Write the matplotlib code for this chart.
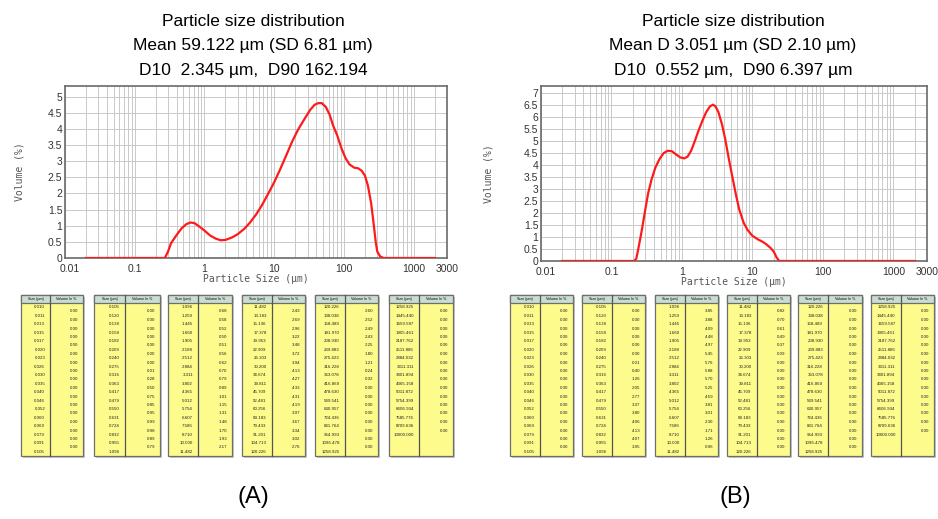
import matplotlib.pyplot as plt
from matplotlib.patches import Rectangle
from matplotlib.ticker import FixedLocator, LogLocator, NullFormatter
from matplotlib.transforms import ScaledTranslation

plt.rcParams['font.family'] = ['Liberation Sans', 'DejaVu Sans']

# size classes (um) used by both result tables
sizes = [0.010, 0.011, 0.013, 0.015, 0.017, 0.020, 0.023, 0.026, 0.030, 0.035,
         0.040, 0.046, 0.052, 0.060, 0.069, 0.079, 0.091, 0.105, 0.120, 0.138,
         0.158, 0.182, 0.209, 0.240, 0.275, 0.316, 0.363, 0.417, 0.479, 0.550,
         0.631, 0.724, 0.832, 0.955, 1.096, 1.259, 1.445, 1.660, 1.905, 2.188,
         2.512, 2.884, 3.311, 3.802, 4.365, 5.012, 5.754, 6.607, 7.586, 8.710,
         10.000, 11.482, 13.183, 15.136, 17.378, 19.953, 22.909, 26.303, 30.200, 34.674,
         39.811, 45.709, 52.481, 60.256, 69.183, 79.433, 91.201, 104.713, 120.226, 138.038,
         158.489, 181.970, 208.930, 239.883, 275.423, 316.228, 363.078, 416.869, 478.630, 549.541,
         630.957, 724.436, 831.764, 954.993, 1096.478, 1258.925, 1445.440, 1659.587, 1905.461, 2187.762,
         2511.886, 2884.032, 3311.311, 3801.894, 4365.158, 5011.872, 5754.399, 6606.934, 7585.776, 8709.636,
         10000.000]

# volume % per size class, sample A
vol_a = [0.00, 0.00, 0.00, 0.00, 0.00, 0.00, 0.00, 0.00, 0.00, 0.00, 0.00, 0.00, 0.00, 0.00, 0.00, 0.00, 0.00,
         0.00, 0.00, 0.00, 0.00, 0.00, 0.00, 0.00, 0.01, 0.28, 0.50, 0.75, 0.85, 0.95, 0.99, 0.98, 0.89, 0.79,
         0.68, 0.58, 0.52, 0.50, 0.51, 0.56, 0.62, 0.70, 0.79, 0.89, 1.01, 1.15, 1.31, 1.48, 1.70, 1.93, 2.17,
         2.43, 2.69, 2.96, 3.22, 3.48, 3.72, 3.94, 4.13, 4.27, 4.33, 4.31, 4.19, 3.97, 3.67, 3.34, 3.02, 2.76,
         2.60, 2.52, 2.49, 2.43, 2.25, 1.80, 1.21, 0.24, 0.02, 0.00, 0.00, 0.00, 0.00, 0.00, 0.00, 0.00, 0.00,
         0.00, 0.00, 0.00, 0.00, 0.00, 0.00, 0.00, 0.00, 0.00, 0.00, 0.00, 0.00, 0.00, 0.00, 0.00]

# volume % per size class, sample B
vol_b = [0.00, 0.00, 0.00, 0.00, 0.00, 0.00, 0.00, 0.00, 0.00, 0.00, 0.00, 0.00, 0.00, 0.00, 0.00, 0.00, 0.00,
         0.00, 0.00, 0.00, 0.00, 0.00, 0.00, 0.01, 0.40, 1.26, 2.05, 2.77, 3.37, 3.80, 4.06, 4.13, 4.07, 3.95,
         3.85, 3.88, 4.09, 4.48, 4.97, 5.45, 5.76, 5.88, 5.70, 5.25, 4.59, 3.81, 3.01, 2.30, 1.71, 1.26, 0.96,
         0.82, 0.70, 0.61, 0.49, 0.37, 0.09, 0.00, 0.00, 0.00, 0.00, 0.00, 0.00, 0.00, 0.00, 0.00, 0.00, 0.00,
         0.00, 0.00, 0.00, 0.00, 0.00, 0.00, 0.00, 0.00, 0.00, 0.00, 0.00, 0.00, 0.00, 0.00, 0.00, 0.00, 0.00,
         0.00, 0.00, 0.00, 0.00, 0.00, 0.00, 0.00, 0.00, 0.00, 0.00, 0.00, 0.00, 0.00, 0.00, 0.00]

# distribution curves (size um, volume %)
curve_a_x = [0.02, 0.27, 0.30, 0.33, 0.40, 0.47, 0.55, 0.63, 0.72, 0.85, 1.0, 1.2, 1.45, 1.7, 2.0,
             2.5, 3.0, 3.7, 4.5, 5.5, 6.6, 8.0, 10, 12, 15, 18, 22, 27, 33, 38, 43, 48, 55, 62,
             70, 80, 92, 105, 120, 140, 160, 180, 200, 220, 245, 265, 285, 300, 330, 370, 2000]
curve_a_y = [0, 0, 0.2, 0.45, 0.72, 0.92, 1.05, 1.10, 1.08, 0.97, 0.85, 0.70, 0.60, 0.55, 0.56,
             0.64, 0.74, 0.90, 1.10, 1.35, 1.62, 1.95, 2.35, 2.72, 3.2, 3.6, 3.98, 4.3, 4.6, 4.75, 4.80, 4.80, 4.68, 4.45,
             4.1, 3.8, 3.4, 3.1, 2.9, 2.8, 2.78, 2.7, 2.55, 2.25, 1.7, 1.1, 0.5, 0.2, 0.05, 0, 0]

curve_b_x = [0.02, 0.21, 0.225, 0.24, 0.27, 0.30, 0.33, 0.37, 0.42, 0.48, 0.55, 0.63, 0.72, 0.82, 0.95,
             1.08, 1.2, 1.35, 1.5, 1.7, 1.95, 2.2, 2.5, 2.75, 3.0, 3.3, 3.7, 4.1, 4.6, 5.2, 5.8,
             6.5, 7.5, 8.5, 10, 12, 14, 16, 18, 20, 22, 24, 2000]
curve_b_y = [0, 0, 0.1, 0.5, 1.3, 2.1, 2.8, 3.4, 3.9, 4.25, 4.5, 4.6, 4.58, 4.45, 4.32,
             4.28, 4.35, 4.6, 4.95, 5.4, 5.85, 6.2, 6.45, 6.52, 6.45, 6.2, 5.7, 5.1, 4.3, 3.5, 2.8,
             2.15, 1.6, 1.3, 1.05, 0.9, 0.8, 0.68, 0.55, 0.4, 0.15, 0, 0]

x_ticks = [0.01, 0.1, 1, 10, 100, 1000, 3000]
x_tick_labels = ['0.01', '0.1', '1', '10', '100', '1000', '3000']

titles_a = ['Particle size distribution', 'Mean 59.122 \u00b5m (SD 6.81 \u00b5m)', 'D10  2.345 \u00b5m,  D90 162.194']
titles_b = ['Particle size distribution', 'Mean D 3.051 \u00b5m (SD 2.10 \u00b5m)', 'D10  0.552 \u00b5m,  D90 6.397 \u00b5m']

W, H = 938, 519
fig = plt.figure(figsize=(W / 100, H / 100), dpi=100)


def px_axes(left, top, right, bottom):
    return fig.add_axes([left / W, 1 - bottom / H, (right - left) / W, (bottom - top) / H])


def psd_plot(ax, cx, cy, ymax, yticks):
    ax.plot(cx, cy, color='#ff1a1a', lw=1.6, zorder=3)
    ax.set_xscale('log')
    ax.set_xlim(0.01, 3000)
    ax.set_ylim(0, ymax)
    ax.xaxis.set_major_locator(FixedLocator(x_ticks))
    ax.set_xticklabels(x_tick_labels)
    ax.xaxis.set_minor_locator(LogLocator(base=10, subs=range(2, 10)))
    ax.xaxis.set_minor_formatter(NullFormatter())
    ax.set_yticks(yticks)
    ax.set_yticklabels(['%g' % v for v in yticks])
    ax.grid(True, which='both', color='#c9c9c9', lw=0.7)
    ax.tick_params(which='both', length=0, labelsize=7.5, colors='#333333', pad=2)
    ax.tick_params(axis='x', pad=4)
    # nudge the first x label off the corner
    first = ax.get_xticklabels()[0]
    first.set_transform(first.get_transform() + ScaledTranslation(5 / 100, 0, fig.dpi_scale_trans))
    for s in ax.spines.values():
        s.set_color('#6a6a6a')
        s.set_linewidth(1.2)
    ax.set_ylabel('Volume (%)', fontsize=7, color='#555555', family='DejaVu Sans Mono', labelpad=17)
    ax.set_xlabel('Particle Size (\u00b5m)', fontsize=7, color='#555555', family='DejaVu Sans Mono', labelpad=0)


ax_a = px_axes(65, 86, 447, 258)
psd_plot(ax_a, curve_a_x, curve_a_y, 5.33, [0, 0.5, 1, 1.5, 2, 2.5, 3, 3.5, 4, 4.5, 5])
ax_b = px_axes(541, 86, 927, 261)
psd_plot(ax_b, curve_b_x, curve_b_y, 7.3, [0, 0.5, 1, 1.5, 2, 2.5, 3, 3.5, 4, 4.5, 5, 5.5, 6, 6.5, 7])
ax_b.yaxis.labelpad = 22

for i, line in enumerate(titles_a):
    fig.text(253 / W, 1 - (21 + 24.5 * i) / H, line, ha='center', va='center', fontsize=12.5)
for i, line in enumerate(titles_b):
    fig.text(733 / W, 1 - (21 + 24.5 * i) / H, line, ha='center', va='center', fontsize=12.5)

fig.text(253 / W, 1 - 497 / H, '(A)', ha='center', va='center', fontsize=17)
fig.text(735 / W, 1 - 497 / H, '(B)', ha='center', va='center', fontsize=17)

# result tables drawn in pixel coordinates
tab = fig.add_axes([0, 0, 1, 1], zorder=-1)
tab.set_xlim(0, W)
tab.set_ylim(H, 0)
tab.axis('off')

TOP, HDR, ROW, NROW = 295, 8, 8.5, 18


def draw_table(x0, x1, sz, vol):
    w = x1 - x0
    bottom = TOP + HDR + ROW * NROW
    split = x0 + 0.47 * w
    tab.add_patch(Rectangle((x0 + 1.5, TOP + 1.5), w, bottom - TOP, color='#c8c8c8', lw=0))
    tab.add_patch(Rectangle((x0, TOP), w, bottom - TOP, facecolor='#fdfb8c', edgecolor='#6e6e6e', lw=0.9))
    tab.add_patch(Rectangle((x0, TOP), w, HDR, facecolor='#c9ddd0', edgecolor='#6e6e6e', lw=0.9))
    tab.plot([split, split], [TOP, bottom], color='#555555', lw=0.9)
    tab.text((x0 + split) / 2, TOP + HDR / 2, 'Size (\u00b5m)', ha='center', va='center', fontsize=2.6)
    tab.text((split + x1) / 2, TOP + HDR / 2, 'Volume In %', ha='center', va='center', fontsize=2.6)
    for i, s in enumerate(sz):
        tab.text(split - 0.08 * w, TOP + HDR + ROW * (i + 0.5), '%.3f' % s,
                 ha='right', va='center', fontsize=3.2, color='#222222')
    for i, v in enumerate(vol):
        tab.text(x1 - 0.07 * w, TOP + HDR + ROW * (i + 1), '%.2f' % v,
                 ha='right', va='center', fontsize=3.2, color='#222222')


tables_a = [(21, 83), (94, 160), (168, 232), (242, 305), (315, 378), (389, 453)]
tables_b = [(510, 573), (582, 645), (655, 718), (727, 790), (798, 862), (871, 934)]

for vol, spots in [(vol_a, tables_a), (vol_b, tables_b)]:
    for k, (x0, x1) in enumerate(spots):
        lo = 17 * k
        hi = min(lo + 17, len(vol))
        draw_table(x0, x1, sizes[lo:hi + 1], vol[lo:hi])

fig.savefig('out.png', dpi=100)
